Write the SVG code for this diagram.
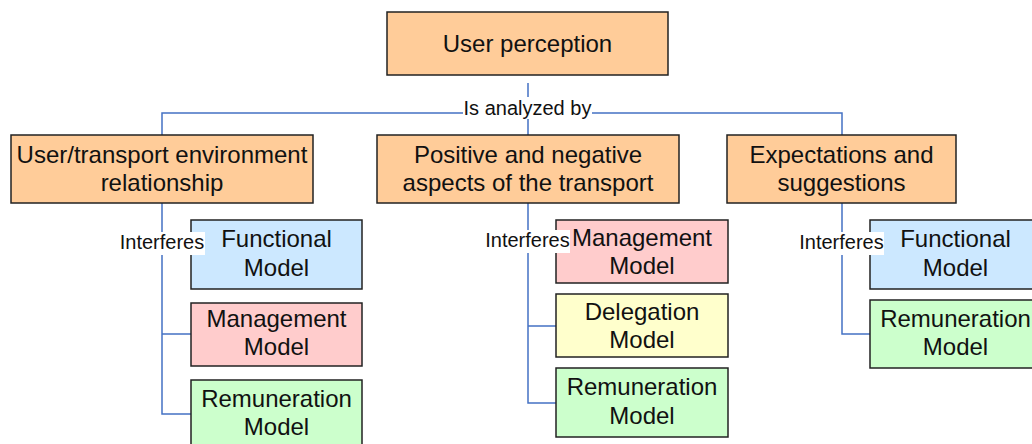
<svg xmlns="http://www.w3.org/2000/svg" width="1032" height="444" viewBox="0 0 1032 444">
<style>
.box{stroke:#222;stroke-width:1.5}
.or{fill:#FFCC99}.bl{fill:#CCE8FF}.pk{fill:#FFCCCC}.ye{fill:#FFFFCC}.gr{fill:#CCFFCC}
.t{font-family:"Liberation Sans",Arial,sans-serif;font-size:24px;fill:#111;text-anchor:middle}
.l{font-family:"Liberation Sans",Arial,sans-serif;font-size:20px;fill:#111;text-anchor:middle}
.c{fill:none;stroke:#4472C4;stroke-width:1.5}
.bg{fill:#fff}
</style>
<rect width="1032" height="444" fill="#fff"/>
<g id="connectors">
<path class="c" d="M528 83V113M162 135V113H842V135M528 113V135"/>
<path class="c" d="M162 203V414H191M162 334H191"/>
<path class="c" d="M528 203V403H556M528 326H556"/>
<path class="c" d="M842 203V334H870"/>
</g>
<g id="n-top"><rect class="box or" x="387" y="12" width="281" height="63"/><text class="t" x="527.5" y="52">User perception</text></g>
<g id="label-analyzed"><rect class="bg" x="463" y="97" width="129" height="22"/><text class="l" x="527.5" y="115">Is analyzed by</text></g>
<g id="n-env"><rect class="box or" x="11" y="135" width="302" height="68"/><text class="t" x="162" y="163">User/transport environment</text><text class="t" x="162" y="191">relationship</text></g>
<g id="n-pos"><rect class="box or" x="377" y="135" width="302" height="68"/><text class="t" x="528" y="163">Positive and negative</text><text class="t" x="528" y="191">aspects of the transport</text></g>
<g id="n-exp"><rect class="box or" x="727" y="135" width="229" height="68"/><text class="t" x="841.5" y="163">Expectations and</text><text class="t" x="841.5" y="191">suggestions</text></g>

<g id="n-c1-func"><rect class="box bl" x="191" y="220" width="171" height="69"/><text class="t" x="276.5" y="247">Functional</text><text class="t" x="276.5" y="276">Model</text></g>
<g id="n-c1-mgmt"><rect class="box pk" x="191" y="303" width="171" height="63"/><text class="t" x="276.5" y="327">Management</text><text class="t" x="276.5" y="355">Model</text></g>
<g id="n-c1-rem"><rect class="box gr" x="191" y="380" width="171" height="68"/><text class="t" x="276.5" y="407">Remuneration</text><text class="t" x="276.5" y="435">Model</text></g>

<g id="n-c2-mgmt"><rect class="box pk" x="556" y="220" width="172" height="63"/><text class="t" x="642" y="246">Management</text><text class="t" x="642" y="274">Model</text></g>
<g id="n-c2-del"><rect class="box ye" x="556" y="294" width="172" height="63"/><text class="t" x="642" y="320">Delegation</text><text class="t" x="642" y="348">Model</text></g>
<g id="n-c2-rem"><rect class="box gr" x="556" y="368" width="172" height="69"/><text class="t" x="642" y="395">Remuneration</text><text class="t" x="642" y="424">Model</text></g>

<g id="n-c3-func"><rect class="box bl" x="870" y="220" width="171" height="69"/><text class="t" x="955.5" y="247">Functional</text><text class="t" x="955.5" y="276">Model</text></g>
<g id="n-c3-rem"><rect class="box gr" x="870" y="300" width="171" height="68"/><text class="t" x="955.5" y="327">Remuneration</text><text class="t" x="955.5" y="355">Model</text></g>

<g id="label-interferes-1"><rect class="bg" x="120" y="232" width="85" height="23"/><text class="l" x="162" y="249">Interferes</text></g>
<g id="label-interferes-2"><rect class="bg" x="485" y="230" width="85" height="23"/><text class="l" x="527.5" y="247">Interferes</text></g>
<g id="label-interferes-3"><rect class="bg" x="799" y="232" width="85" height="23"/><text class="l" x="841.5" y="249">Interferes</text></g>
</svg>
